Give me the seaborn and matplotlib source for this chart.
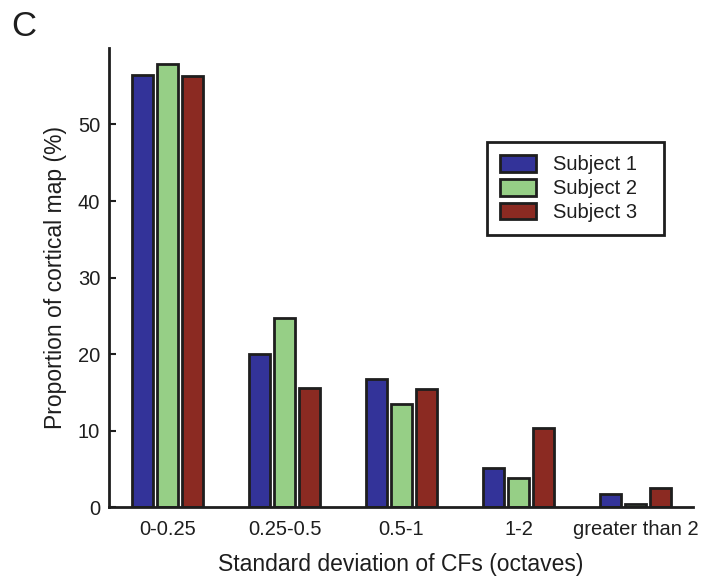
import matplotlib
matplotlib.use("Agg")
import matplotlib.pyplot as plt
import seaborn as sns
import pandas as pd

# Distribution of CF standard deviation across the cortical map, per subject
categories = ["0-0.25", "0.25-0.5", "0.5-1", "1-2", "greater than 2"]
subject1 = [56.5, 20.0, 16.8, 5.1, 1.75]
subject2 = [57.9, 24.7, 13.45, 3.85, 0.4]
subject3 = [56.3, 15.6, 15.4, 10.4, 2.5]
subjects = ["Subject 1", "Subject 2", "Subject 3"]
colors = ["#333399", "#96CF86", "#8B2A22"]
y_ticks = [0, 10, 20, 30, 40, 50]

rows = []
for name, vals in zip(subjects, [subject1, subject2, subject3]):
    for cat, v in zip(categories, vals):
        rows.append({"Range": cat, "Subject": name, "Proportion": v})
df = pd.DataFrame(rows)

sns.set_theme(style="ticks")
plt.rcParams["font.family"] = ["Liberation Sans", "DejaVu Sans"]

ink = "#1e1e1e"
fig = plt.figure(figsize=(7.04, 5.79), dpi=100)
ax = fig.add_axes([0.155, 0.1235, 0.829, 0.794])

sns.barplot(data=df, x="Range", y="Proportion", hue="Subject",
            order=categories, hue_order=subjects, palette=colors,
            width=0.65, gap=0.17, edgecolor=ink, linewidth=2,
            saturation=1, ax=ax)

ax.set_xlim(-0.5, 4.49)
ax.set_ylim(0, 60)
ax.set_yticks(y_ticks)
ax.tick_params(axis="y", direction="in", length=5, width=1.5,
               labelsize=14.5, colors=ink, pad=6.5)
ax.tick_params(axis="x", length=0, labelsize=14.5, colors=ink, pad=9)
for s in ["top", "right"]:
    ax.spines[s].set_visible(False)
for s in ["left", "bottom"]:
    ax.spines[s].set_linewidth(2)
    ax.spines[s].set_color(ink)

ax.set_xlabel("Standard deviation of CFs (octaves)", fontsize=16.5,
              color=ink, labelpad=10)
ax.set_ylabel("Proportion of cortical map (%)", fontsize=16.5,
              color=ink, labelpad=8)

leg = ax.legend(loc="upper left", bbox_to_anchor=(0.647, 0.6, 0.303, 0.195),
                mode="expand",
                frameon=True, fancybox=False, framealpha=1, fontsize=14.5,
                handlelength=1.8, handleheight=0.9, labelspacing=0.22,
                borderpad=0.65, handletextpad=0.85, borderaxespad=0)
leg.get_frame().set_edgecolor(ink)
leg.get_frame().set_linewidth(2)
for t in leg.get_texts():
    t.set_color(ink)

fig.text(0.016, 0.937, "C", fontsize=25, color=ink)

fig.savefig("out.png", dpi=100)
